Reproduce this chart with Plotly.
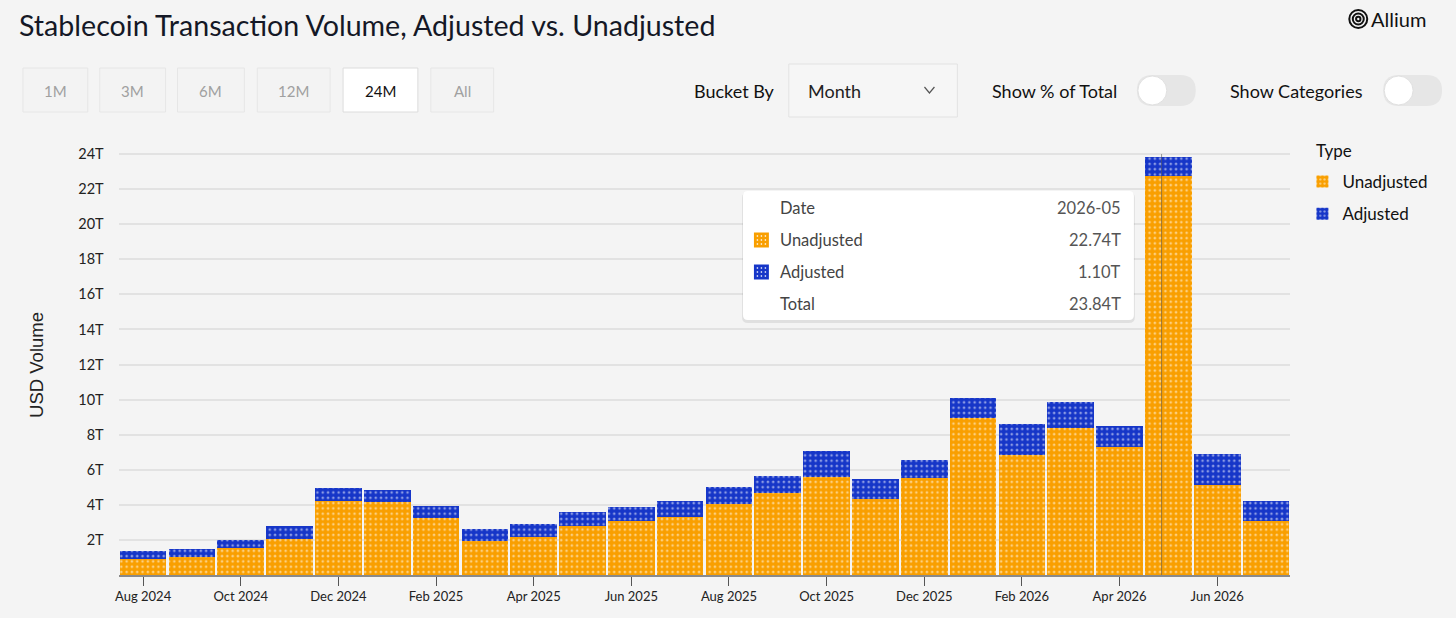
import plotly.graph_objects as go

# monthly buckets (x categories), values in trillions of USD
months = ["2024-08", "2024-09", "2024-10", "2024-11", "2024-12", "2025-01",
          "2025-02", "2025-03", "2025-04", "2025-05", "2025-06", "2025-07",
          "2025-08", "2025-09", "2025-10", "2025-11", "2025-12", "2026-01",
          "2026-02", "2026-03", "2026-04", "2026-05", "2026-06", "2026-07"]
unadjusted = [0.91, 1.03, 1.52, 2.07, 4.24, 4.15, 3.23, 1.95, 2.17, 2.81, 3.08, 3.31,
              4.05, 4.66, 5.59, 4.35, 5.55, 8.97, 6.85, 8.40, 7.30, 22.74, 5.12, 3.10]
adjusted = [0.48, 0.44, 0.49, 0.71, 0.71, 0.70, 0.68, 0.69, 0.72, 0.77, 0.80, 0.89,
            0.95, 0.97, 1.50, 1.13, 1.01, 1.14, 1.78, 1.45, 1.22, 1.10, 1.78, 1.12]
tick_labels = ["Aug 2024", "Oct 2024", "Dec 2024", "Feb 2025", "Apr 2025", "Jun 2025",
               "Aug 2025", "Oct 2025", "Dec 2025", "Feb 2026", "Apr 2026", "Jun 2026"]
y_ticks = [2, 4, 6, 8, 10, 12, 14, 16, 18, 20, 22, 24]
range_buttons = ["1M", "3M", "6M", "12M", "24M", "All"]
hover_month = "2026-05"

W, H = 1456, 618
ORANGE = "#F99F00"
BLUE = "#1636C8"
UI_FONT = "Lato"


def px(x):
    return x / W


def py(y):
    return 1 - y / H


def rrect(x0, y0, x1, y1, r):
    # rounded rectangle path in paper coords from pixel coords
    pts = [
        f"M{px(x0 + r)},{py(y0)}", f"L{px(x1 - r)},{py(y0)}",
        f"Q{px(x1)},{py(y0)} {px(x1)},{py(y0 + r)}", f"L{px(x1)},{py(y1 - r)}",
        f"Q{px(x1)},{py(y1)} {px(x1 - r)},{py(y1)}", f"L{px(x0 + r)},{py(y1)}",
        f"Q{px(x0)},{py(y1)} {px(x0)},{py(y1 - r)}", f"L{px(x0)},{py(y0 + r)}",
        f"Q{px(x0)},{py(y0)} {px(x0 + r)},{py(y0)}", "Z",
    ]
    return " ".join(pts)


def label(text, x, y, size, color, anchor="left", family=UI_FONT, **kw):
    return dict(text=text, x=px(x), y=py(y), xref="paper", yref="paper",
                xanchor=anchor, yanchor="middle", showarrow=False,
                font=dict(family=family, size=size, color=color), **kw)


def pattern(col):
    return dict(shape=".", fgcolor="white", bgcolor=col, size=5.3, solidity=0.2)


fig = go.Figure()
fig.add_trace(go.Bar(x=months, y=unadjusted, name="Unadjusted", legendgroup="u",
                     marker=dict(color=ORANGE, pattern=pattern(ORANGE), line=dict(width=0))))
fig.add_trace(go.Bar(x=months, y=adjusted, name="Adjusted", legendgroup="a",
                     marker=dict(color=BLUE, pattern=pattern(BLUE), line=dict(width=0))))

shapes = []
annotations = []

# title and logo
annotations.append(label("Stablecoin Transaction Volume, Adjusted vs. Unadjusted",
                         13, 25, 28.6, "#141826"))
for r in [9, 5.5, 2.2]:
    shapes.append(dict(type="circle", xref="paper", yref="paper",
                       x0=px(1358 - r), x1=px(1358 + r), y0=py(19 - r), y1=py(19 + r),
                       line=dict(color="#111", width=2)))
annotations.append(label("Allium", 1369, 19, 20, "#111"))

# range buttons
btn_x = [(19, 84), (96, 162), (174, 241), (254, 327), (340, 415), (428, 491)]
for name, (x0, x1) in zip(range_buttons, btn_x):
    sel = name == "24M"
    shapes.append(dict(type="rect", xref="paper", yref="paper",
                       x0=px(x0), x1=px(x1), y0=py(68), y1=py(112),
                       fillcolor="white" if sel else "#f3f3f3",
                       line=dict(color="#dcdcdc" if sel else "#e6e6e6", width=1)))
    annotations.append(label(name, (x0 + x1) / 2, 91, 15,
                             "#111" if sel else "#a0a0a0", anchor="center"))

# bucket by dropdown
annotations.append(label("Bucket By", 690, 91, 18, "#111"))
shapes.append(dict(type="rect", xref="paper", yref="paper",
                   x0=px(787), x1=px(956), y0=py(64), y1=py(117),
                   fillcolor="#f6f6f6", line=dict(color="#e2e2e2", width=1)))
annotations.append(label("Month", 804, 91, 18, "#222"))
shapes.append(dict(type="path", xref="paper", yref="paper",
                   path=f"M{px(923)},{py(87)} L{px(928)},{py(93)} L{px(933)},{py(87)}",
                   line=dict(color="#555", width=1.2)))

# toggles
for text, lx, tx in [("Show % of Total", 989, 1136), ("Show Categories", 1227, 1383)]:
    annotations.append(label(text, lx, 91, 18, "#111"))
    shapes.append(dict(type="path", xref="paper", yref="paper",
                       path=rrect(tx, 75, tx + 59, 106, 15.5),
                       fillcolor="#e6e6e6", line=dict(width=0)))
    shapes.append(dict(type="circle", xref="paper", yref="paper",
                       x0=px(tx + 1), x1=px(tx + 30), y0=py(76), y1=py(105),
                       fillcolor="white", line=dict(color="#e0e0e0", width=1)))

# y axis title and legend title
annotations.append(label("USD Volume", 32, 365, 18.5, "#222", anchor="center",
                         family="Liberation Sans", textangle=-90))
annotations.append(label("Type", 1314, 150, 17, "#111"))

# hover spike line
hi = months.index(hover_month)
shapes.append(dict(type="line", xref="x", yref="y", x0=hi - 0.14, x1=hi - 0.14,
                   y0=0, y1=24.0, line=dict(color="rgba(90,90,90,0.6)", width=1)))

# tooltip
tx0, tx1, ty0, ty1 = 741, 1133, 191, 320
shapes.append(dict(type="path", xref="paper", yref="paper",
                   path=rrect(tx0 - 1, ty0 + 1, tx1 + 1, ty1 + 3, 6),
                   fillcolor="rgba(0,0,0,0.08)", line=dict(width=0)))
shapes.append(dict(type="path", xref="paper", yref="paper",
                   path=rrect(tx0, ty0, tx1, ty1, 5),
                   fillcolor="white", line=dict(width=0)))
total = unadjusted[hi] + adjusted[hi]
rows = [("Date", hover_month, None, 208),
        ("Unadjusted", f"{unadjusted[hi]:.2f}T", ORANGE, 240),
        ("Adjusted", f"{adjusted[hi]:.2f}T", BLUE, 272),
        ("Total", f"{total:.2f}T", None, 304)]
for name, val, col, yy in rows:
    annotations.append(label(name, 776, yy, 16.5, "#444"))
    annotations.append(label(val, 1122, yy, 16.5, "#555", anchor="right"))
    if col:
        shapes.append(dict(type="rect", xref="paper", yref="paper",
                           x0=px(752), x1=px(767), y0=py(yy - 7.5), y1=py(yy + 7.5),
                           fillcolor=col, line=dict(width=0)))
        for dx in [3.5, 7.5, 11.5]:
            for dy in [-4, 0, 4]:
                shapes.append(dict(type="rect", xref="paper", yref="paper",
                                   x0=px(752 + dx - 0.7), x1=px(752 + dx + 0.7),
                                   y0=py(yy + dy - 0.7), y1=py(yy + dy + 0.7),
                                   fillcolor="white", line=dict(width=0)))

fig.update_layout(
    width=W, height=H,
    margin=dict(l=0, r=0, t=0, b=0),
    paper_bgcolor="#f4f4f4",
    plot_bgcolor="#f4f4f4",
    barmode="stack",
    bargap=0.045,
    showlegend=True,
    legend=dict(x=px(1302), y=py(164), xanchor="left", yanchor="top",
                traceorder="grouped", tracegroupgap=7,
                font=dict(family=UI_FONT, size=17, color="#111"),
                bgcolor="rgba(0,0,0,0)"),
    xaxis=dict(domain=[px(115), px(1290)], type="category", range=[-0.5, 23.5],
               tickvals=months[::2], ticktext=tick_labels,
               ticks="outside", ticklen=9, tickcolor="#555", tickwidth=1,
               showline=True, linecolor="#8a8a8a", linewidth=1.5,
               showgrid=False,
               tickfont=dict(family=UI_FONT, size=13, color="#222")),
    yaxis=dict(domain=[py(575), py(145.3)], range=[0, 24.5],
               tickvals=y_ticks, ticktext=[f"{v}T" for v in y_ticks],
               showgrid=True, gridcolor="#e2e2e2", gridwidth=1.5,
               zeroline=False, ticklabelstandoff=14,
               tickfont=dict(family=UI_FONT, size=14.5, color="#222")),
    shapes=shapes,
    annotations=annotations,
)

fig.write_html("out.html", config={"displayModeBar": False},
               post_script="document.body.style.margin='0';")
